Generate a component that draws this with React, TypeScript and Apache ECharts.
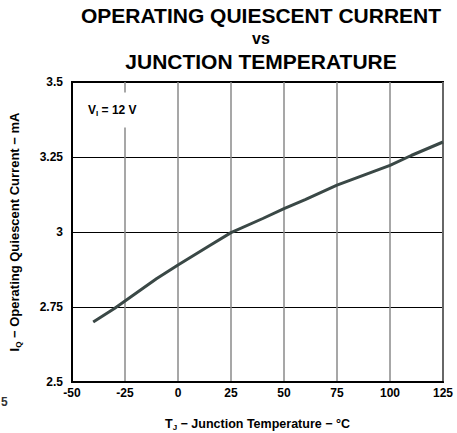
import React, { useEffect, useRef } from "react";
import * as echarts from "echarts";

const temperatures = [-40, -30, -25, -10, 0, 15, 25, 40, 50, 60, 75, 100, 110, 125];
const currents = [2.70, 2.745, 2.77, 2.845, 2.89, 2.955, 2.998, 3.045, 3.078, 3.108, 3.156, 3.222, 3.255, 3.30];
const titleLines = ["OPERATING QUIESCENT CURRENT", "vs", "JUNCTION TEMPERATURE"];

const FONT = "Liberation Sans, Arial, Helvetica, sans-serif";

function nameRich(size: number) {
  return {
    m: { fontFamily: FONT, fontWeight: "bold", fontSize: size, lineHeight: size + 3, color: "#000" },
    s: { fontFamily: FONT, fontWeight: "bold", fontSize: 8, lineHeight: 6, color: "#000", verticalAlign: "bottom" },
  };
}

export default function App() {
  const ref = useRef<HTMLDivElement>(null);
  useEffect(() => {
    if (!ref.current) return;
    const chart = echarts.init(ref.current, undefined, { renderer: "svg" });
    const data = temperatures.map((t, i) => [t, currents[i]]);
    chart.setOption({
      animation: false,
      backgroundColor: "#fff",
      grid: {
        left: 72,
        right: 14,
        top: 82,
        bottom: 51,
        show: true,
        borderColor: "#000",
        borderWidth: 2,
        backgroundColor: "transparent",
        containLabel: false,
        outerBoundsMode: "none",
      },
      xAxis: {
        type: "value",
        min: -50,
        max: 125,
        interval: 25,
        name: "{m|T}{s|J}{m| − Junction Temperature − °C}",
        nameLocation: "middle",
        nameGap: 34,
        nameTextStyle: { rich: nameRich(12.5) },
        axisLine: { show: true, onZero: false, lineStyle: { color: "#000", width: 2 } },
        axisTick: { show: false },
        axisLabel: { fontFamily: FONT, fontWeight: "bold", fontSize: 12, color: "#000", margin: 5 },
        splitLine: { show: true, lineStyle: { color: "#8a8a8a", width: 1.5 } },
      },
      yAxis: {
        type: "value",
        min: 2.5,
        max: 3.5,
        interval: 0.25,
        name: "{m|I}{s|Q}{m| − Operating Quiescent Current − mA}",
        nameLocation: "middle",
        nameGap: 50,
        nameTextStyle: { rich: nameRich(13) },
        axisLine: { show: true, onZero: false, lineStyle: { color: "#000", width: 2 } },
        axisTick: { show: false },
        axisLabel: { fontFamily: FONT, fontWeight: "bold", fontSize: 12, color: "#000", margin: 9 },
        splitLine: { show: true, lineStyle: { color: "#000", width: 1 } },
      },
      series: [
        {
          type: "line",
          data,
          showSymbol: false,
          smooth: false,
          lineStyle: { color: "#3a4846", width: 3 },
          z: 3,
        },
      ],
      graphic: [
        ...titleLines.map((t, i) => ({
          type: "text",
          x: 261,
          y: i === 1 ? 38 : 15 + i * 23,
          style: {
            text: t,
            fontFamily: FONT,
            fontWeight: "bold",
            fontSize: i === 1 ? 16 : 21,
            fill: "#000",
            textAlign: "center",
            textVerticalAlign: "middle",
          },
        })),
        {
          type: "text",
          x: 86,
          y: 110,
          z: 10,
          style: {
            text: "{m|V}{s|I}{m| = 12 V}",
            textVerticalAlign: "middle",
            backgroundColor: "#fff",
            padding: [10, 2, 10, 2],
            rich: {
              m: { fontFamily: FONT, fontWeight: "bold", fontSize: 12, lineHeight: 15, fill: "#000" },
              s: { fontFamily: FONT, fontWeight: "bold", fontSize: 8, lineHeight: 6, fill: "#000", verticalAlign: "bottom" },
            },
          },
        },
        {
          type: "text",
          x: 1,
          y: 402,
          style: {
            text: "5",
            fontFamily: FONT,
            fontWeight: "bold",
            fontSize: 12,
            fill: "#333",
            textVerticalAlign: "middle",
          },
        },
      ],
    });
    return () => chart.dispose();
  }, []);
  return <div ref={ref} style={{ position: "fixed", left: 0, top: 0, width: 457, height: 433 }} />;
}
